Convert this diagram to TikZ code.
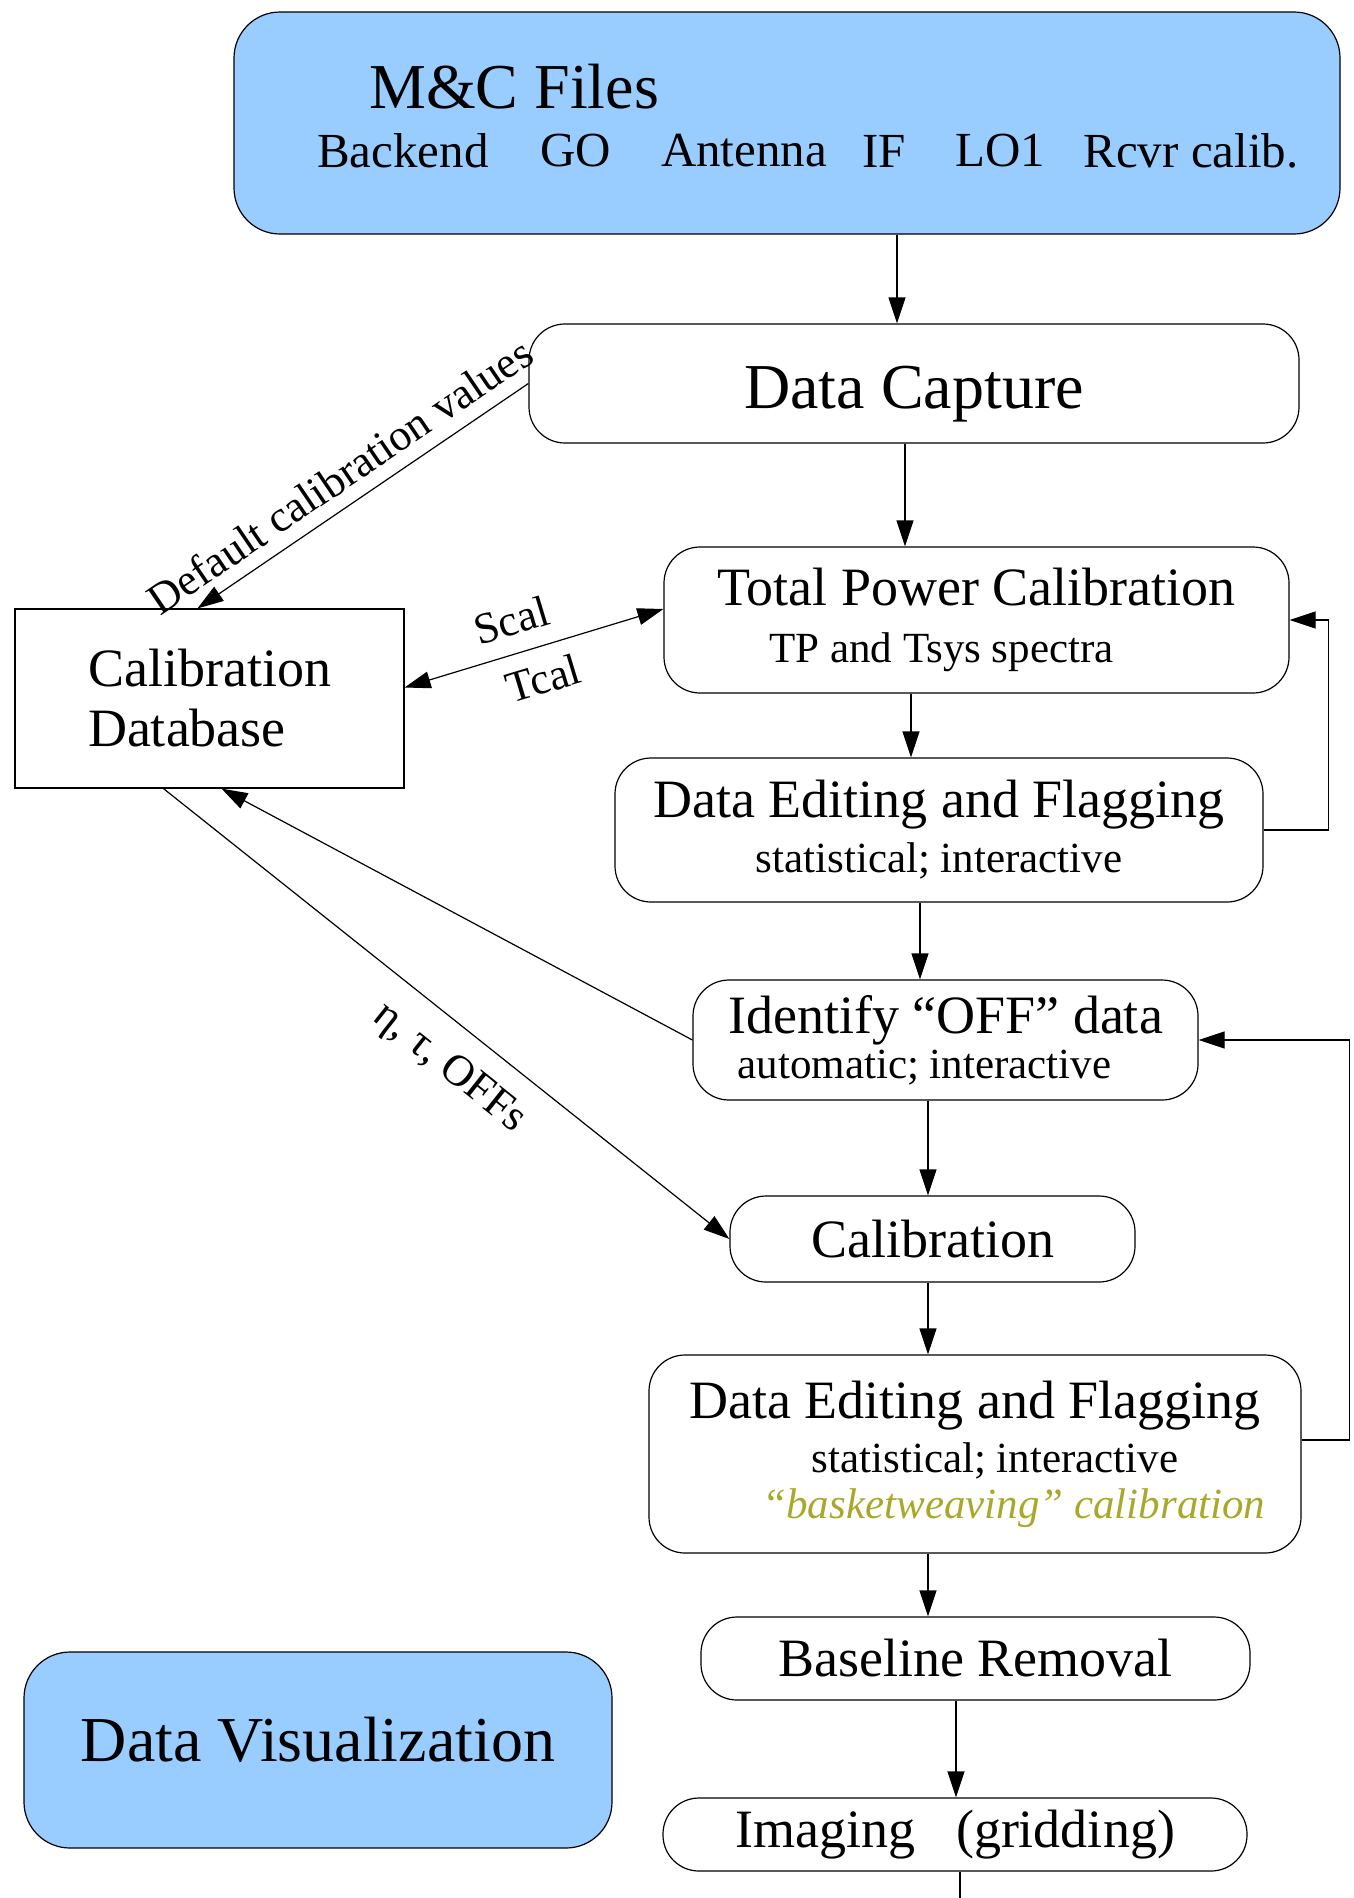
\documentclass[tikz,border=0pt]{standalone}
\usepackage{fontspec}
\setmainfont{Liberation Serif}
\usetikzlibrary{arrows.meta, positioning}
\definecolor{mcblue}{HTML}{99CCFF}
\definecolor{basketolive}{HTML}{A9A82A}
\newcommand{\fsz}[2]{\fontsize{#1}{#2}\selectfont}
\newcommand{\smalltxt}{\fsz{43}{50}}

\begin{document}
\begin{tikzpicture}[
    x=1pt, y=-1pt,
    box/.style={draw, rounded corners=36pt, align=center, line width=1.2pt, inner sep=0pt, font=\fsz{54}{57}},
    bluebox/.style={box, fill=mcblue, rounded corners=46pt},
    dbbox/.style={draw, align=left, line width=1.2pt, inner sep=0pt, font=\fsz{54}{60}},
    item/.style={font=\fsz{49}{55}, inner sep=0pt},
    edgelabel/.style={font=\fsz{44}{50}, sloped},
    arr/.style={-{Triangle[length=26pt, width=17pt]}, line width=1.2pt},
    arrl/.style={{Triangle[length=26pt, width=17pt]}-, line width=1.2pt},
    arrboth/.style={{Triangle[length=26pt, width=17pt]}-{Triangle[length=26pt, width=17pt]}, line width=1.2pt},
    plainline/.style={line width=1.2pt}
  ]
  \useasboundingbox (0,0) rectangle (1353,1898);

  % monitor and control input
  \node[bluebox, minimum width=1106pt, minimum height=222pt] (mc) at (787,123) {};
  \node[item, font=\fsz{64}{70}, anchor=west] (mctitle) at (369,87) {M\&C Files};
  \foreach \i/\x/\t in {1/403/Backend, 2/576/GO, 3/744/Antenna, 4/884/IF, 5/1000/LO1, 6/1191/Rcvr calib.}
    \node[item] (mcitem\i) at (\x,151) {\t};

  % processing chain
  \node[box, minimum width=770pt, minimum height=119pt, font=\fsz{64}{70}, text height=64pt, text depth=14pt] (cap) at (914,383.5) {Data Capture};
  \node[box, minimum width=625pt, minimum height=146pt, font=\fsz{54}{57}] (tpc) at (976.5,620)
    {Total Power Calibration\\{\smalltxt TP and Tsys spectra}\hspace*{70pt}};
  \node[box, minimum width=648pt, minimum height=144pt, font=\fsz{54}{55}] (def1) at (939,830)
    {Data Editing and Flagging\\{\smalltxt statistical; interactive}};
  \node[box, minimum width=505pt, minimum height=120pt, font=\fsz{54}{45}] (ident) at (945.5,1040)
    {Identify “OFF” data\\{\smalltxt automatic; interactive}\hspace*{42pt}};
  \node[box, minimum width=405pt, minimum height=86pt] (calib) at (932.5,1239) {Calibration};
  \node[box, minimum width=652pt, minimum height=198pt, font=\fsz{54}{54}] (def2) at (975,1454)
    {Data Editing and Flagging\\\hspace*{40pt}{\smalltxt statistical; interactive}\\[-8pt]\hspace*{78pt}{\smalltxt\itshape\color{basketolive}“basketweaving” calibration}};
  \node[box, minimum width=549pt, minimum height=83pt] (base) at (975.5,1658.5) {Baseline Removal};
  \node[box, minimum width=584pt, minimum height=73pt] (img) at (955,1834.5) {Imaging\hspace{41pt}(gridding)};
  \coordinate (imgout) at (960,1898);

  \node[bluebox, minimum width=588pt, minimum height=196pt, font=\fsz{64}{70}, text height=44pt, text depth=22pt] (vis) at (318,1750) {Data Visualization};
  \node[dbbox, minimum width=389pt, minimum height=179pt] (caldb) at (209.5,698.5) {Calibration\\Database\hspace*{12pt}};

  % main flow
  \draw[arr] (mc.south -| 897,0) -- (cap.north -| 897,0);
  \draw[arr] (cap.south -| 905,0) -- (tpc.north -| 905,0);
  \draw[arr] (tpc.south -| 911,0) -- (def1.north -| 911,0);
  \draw[arr] (def1.south -| 920,0) -- (ident.north -| 920,0);
  \draw[arr] (ident.south -| 928,0) -- (calib.north -| 928,0);
  \draw[arr] (calib.south -| 928,0) -- (def2.north -| 928,0);
  \draw[arr] (def2.south -| 928,0) -- (base.north -| 928,0);
  \draw[arr] (base.south -| 956,0) -- (img.north -| 956,0);
  \draw[plainline] (img.south -| imgout) -- (imgout);

  % feedback loops
  \draw[arr] (def1.east) -- ++(65,0) |- (tpc.east);
  \draw[arr] ([yshift=14pt]def2.east) -- ++(48,0) |- (ident.east);

  % calibration database links
  \draw[arrl] ([xshift=-12pt]caldb.north) -- node[edgelabel, above=10pt, pos=0.48] {Default calibration values} (cap.west);
  \draw[arrboth] ([yshift=11pt]caldb.east) -- node[edgelabel, above=14pt, pos=0.45] {Scal} node[edgelabel, below=12pt, pos=0.5] {Tcal} ([yshift=11pt]tpc.west);
  \draw[arr] (ident.west) -- ([xshift=12pt]caldb.south);
  \draw[arr] ([xshift=-46pt]caldb.south) -- node[edgelabel, below=18pt, pos=0.55] {η, τ, OFFs} (calib.west);
\end{tikzpicture}
\end{document}
